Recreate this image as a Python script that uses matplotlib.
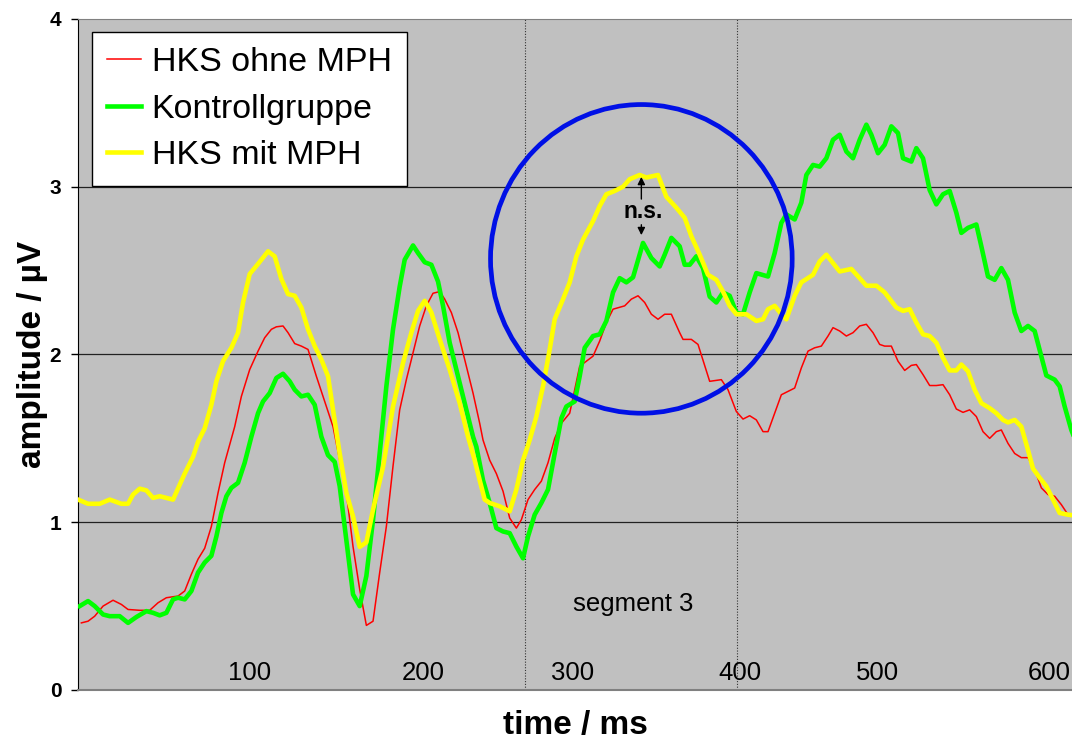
import numpy as np
import matplotlib
matplotlib.use("Agg")
import matplotlib.pyplot as plt
from matplotlib.patches import Ellipse

plt.rcParams['font.family'] = ['Liberation Sans', 'DejaVu Sans']

# ERP averages, time in ms, amplitude in µV
t_ohne = [2, 6, 10, 15, 21, 26, 30, 37, 43, 48, 53, 60, 64, 68, 72, 76, 80, 84, 88, 94,
          98, 103, 108, 112, 116, 119, 123, 126, 130, 134, 138, 143, 148, 153, 157, 161,
          165, 169, 173, 177, 181, 185, 189, 193, 197, 201, 205, 209, 213, 217, 220, 224,
          228, 233, 237, 241, 243, 247, 251, 255, 259, 263, 266, 270, 274, 278, 282, 286,
          290, 295, 301, 305, 309, 313, 317, 321, 328, 332, 336, 340, 344, 348, 352, 356,
          361, 363, 368, 372, 379, 386, 390, 395, 399, 403, 407, 411, 414, 418, 422, 430,
          434, 438, 442, 446, 450, 453, 457, 461, 465, 469, 473, 477, 481, 484, 488, 492,
          496, 500, 503, 507, 511, 515, 519, 523, 527, 531, 535, 539, 543, 547, 551, 554,
          558, 562, 566, 570, 574, 578, 582, 586, 590, 594, 598]
amp_ohne = [0.40, 0.41, 0.44, 0.50, 0.535, 0.51, 0.48, 0.475, 0.475, 0.52, 0.55, 0.56, 0.59,
            0.69, 0.78, 0.845, 0.975, 1.175, 1.355, 1.57, 1.75, 1.91, 2.02, 2.10, 2.15, 2.165,
            2.17, 2.13, 2.065, 2.05, 2.03, 1.87, 1.72, 1.57, 1.37, 1.175, 0.855, 0.60, 0.385,
            0.41, 0.70, 0.975, 1.335, 1.67, 1.85, 2.01, 2.17, 2.29, 2.365, 2.375, 2.33, 2.25,
            2.13, 1.93, 1.77, 1.59, 1.49, 1.37, 1.29, 1.185, 1.025, 0.965, 1.015, 1.135, 1.195,
            1.245, 1.355, 1.50, 1.59, 1.65, 1.93, 1.96, 1.99, 2.08, 2.19, 2.27, 2.29, 2.33,
            2.35, 2.31, 2.24, 2.21, 2.24, 2.24, 2.13, 2.09, 2.09, 2.06, 1.84, 1.85, 1.79, 1.66,
            1.615, 1.635, 1.61, 1.54, 1.54, 1.65, 1.76, 1.80, 1.92, 2.02, 2.04, 2.05, 2.11,
            2.16, 2.14, 2.11, 2.13, 2.17, 2.18, 2.13, 2.06, 2.05, 2.05, 1.96, 1.905, 1.935,
            1.94, 1.88, 1.815, 1.815, 1.82, 1.76, 1.675, 1.655, 1.67, 1.63, 1.54, 1.50, 1.54,
            1.55, 1.47, 1.41, 1.385, 1.385, 1.315, 1.205, 1.165, 1.155, 1.105, 1.045, 1.03]

t_kontroll = [1, 6, 10, 15, 19, 25, 30, 35, 41, 45, 49, 53, 57, 60, 64, 68, 72, 76, 80, 83,
              86, 89, 92, 96, 100, 104, 108, 111, 115, 119, 123, 127, 130, 134, 138, 142, 146,
              150, 154, 157, 160, 165, 169, 173, 177, 181, 185, 189, 193, 196, 201, 204, 208,
              212, 216, 219, 223, 228, 233, 237, 239, 243, 247, 251, 255, 259, 263, 267, 270,
              274, 278, 282, 286, 290, 293, 298, 301, 304, 309, 313, 317, 321, 325, 329, 333,
              339, 344, 349, 352, 356, 361, 364, 367, 371, 375, 379, 383, 387, 391, 395, 399,
              403, 407, 414, 418, 422, 425, 430, 434, 437, 441, 445, 449, 453, 457, 461, 465,
              469, 473, 476, 480, 484, 488, 492, 495, 500, 503, 507, 511, 515, 519, 523, 527,
              530, 534, 539, 542, 546, 550, 554, 558, 562, 566, 570, 574, 578, 581, 586, 589,
              592, 596, 600]
amp_kontroll = [0.50, 0.53, 0.50, 0.45, 0.44, 0.44, 0.40, 0.435, 0.47, 0.46, 0.445, 0.46, 0.54,
                0.55, 0.54, 0.59, 0.70, 0.76, 0.80, 0.915, 1.055, 1.155, 1.205, 1.235, 1.355,
                1.51, 1.65, 1.72, 1.77, 1.86, 1.885, 1.84, 1.79, 1.75, 1.76, 1.70, 1.51, 1.40,
                1.36, 1.215, 0.975, 0.57, 0.50, 0.68, 1.015, 1.41, 1.81, 2.15, 2.405, 2.565,
                2.65, 2.605, 2.55, 2.535, 2.435, 2.29, 2.07, 1.87, 1.67, 1.51, 1.45, 1.25, 1.115,
                0.965, 0.945, 0.935, 0.855, 0.785, 0.915, 1.045, 1.115, 1.195, 1.41, 1.62, 1.69,
                1.72, 1.87, 2.04, 2.11, 2.12, 2.20, 2.37, 2.455, 2.43, 2.46, 2.665, 2.575, 2.525,
                2.595, 2.695, 2.645, 2.535, 2.535, 2.585, 2.515, 2.345, 2.31, 2.37, 2.35, 2.25,
                2.24, 2.37, 2.485, 2.465, 2.605, 2.785, 2.835, 2.805, 2.905, 3.07, 3.13, 3.12,
                3.17, 3.28, 3.31, 3.21, 3.17, 3.28, 3.37, 3.31, 3.20, 3.25, 3.36, 3.32, 3.17,
                3.15, 3.23, 3.17, 2.98, 2.895, 2.955, 2.975, 2.845, 2.725, 2.755, 2.775, 2.645,
                2.465, 2.445, 2.515, 2.445, 2.25, 2.14, 2.17, 2.14, 1.99, 1.875, 1.85, 1.81,
                1.69, 1.55, 1.45]

t_mit = [0, 6, 13, 19, 26, 30, 33, 37, 41, 45, 49, 57, 64, 69, 72, 76, 80, 83, 87, 92, 96,
         99, 103, 108, 114, 118, 122, 126, 130, 134, 138, 142, 146, 150, 153, 157, 161, 165,
         169, 173, 177, 183, 189, 195, 200, 204, 208, 212, 217, 223, 229, 234, 238, 241, 244,
         247, 253, 259, 263, 267, 271, 275, 279, 283, 286, 291, 295, 299, 303, 309, 313, 317,
         322, 327, 331, 337, 341, 348, 353, 359, 364, 368, 373, 378, 383, 387, 391, 395, 401,
         407, 411, 414, 418, 422, 425, 430, 434, 441, 445, 449, 453, 457, 464, 469, 473, 479,
         484, 491, 495, 499, 503, 507, 511, 515, 519, 523, 527, 530, 534, 538, 542, 547, 551,
         555, 558, 562, 566, 570, 573, 577, 581, 585, 589, 594, 598]
amp_mit = [1.135, 1.11, 1.11, 1.135, 1.11, 1.11, 1.165, 1.20, 1.19, 1.145, 1.155, 1.135, 1.29,
           1.39, 1.48, 1.56, 1.70, 1.84, 1.96, 2.04, 2.13, 2.31, 2.48, 2.54, 2.615, 2.585, 2.45,
           2.36, 2.35, 2.28, 2.15, 2.05, 1.97, 1.87, 1.67, 1.41, 1.175, 1.035, 0.853, 0.88,
           1.075, 1.33, 1.69, 1.95, 2.13, 2.26, 2.32, 2.25, 2.09, 1.91, 1.71, 1.51, 1.37, 1.25,
           1.135, 1.115, 1.095, 1.065, 1.195, 1.37, 1.49, 1.63, 1.81, 2.03, 2.21, 2.33, 2.43,
           2.585, 2.685, 2.795, 2.885, 2.955, 2.975, 3.00, 3.045, 3.07, 3.055, 3.07, 2.94,
           2.875, 2.815, 2.705, 2.595, 2.475, 2.445, 2.375, 2.29, 2.24, 2.24, 2.20, 2.21, 2.27,
           2.29, 2.24, 2.21, 2.35, 2.43, 2.475, 2.555, 2.595, 2.545, 2.495, 2.51, 2.455, 2.41,
           2.41, 2.37, 2.28, 2.26, 2.27, 2.19, 2.12, 2.11, 2.07, 1.98, 1.905, 1.905, 1.94, 1.90,
           1.79, 1.71, 1.68, 1.65, 1.61, 1.595, 1.61, 1.57, 1.43, 1.32, 1.265, 1.215, 1.135,
           1.055, 1.045, 1.04]

# text labels written along the bottom of the plot
time_labels = ["100", "200", "300", "400", "500", "600"]
time_label_pos = [103, 207, 297, 397, 479.5, 583]
segment_bounds = [268, 395.5]

fig = plt.figure(figsize=(10.72, 7.42), dpi=100)
ax = fig.add_axes([0.0728, 0.0701, 0.9272, 0.9043])
ax.set_facecolor('#c0c0c0')

for yv in [1, 2, 3]:
    ax.axhline(yv, color='#222222', lw=0.9, zorder=1)
for xv in segment_bounds:
    ax.axvline(xv, color='#333333', lw=0.8, ls=(0, (1, 1.5)), zorder=1)

ax.plot(t_ohne, amp_ohne, color='#ff0000', lw=1.1, label='HKS ohne MPH', zorder=3,
        solid_joinstyle='round')
ax.plot(t_kontroll, amp_kontroll, color='#00ff00', lw=3.3, label='Kontrollgruppe', zorder=4,
        solid_joinstyle='round')
ax.plot(t_mit, amp_mit, color='#ffff00', lw=3.3, label='HKS mit MPH', zorder=5,
        solid_joinstyle='round')

ax.set_xlim(0, 596.4)
ax.set_ylim(0, 4)

# highlighted region around the third peak
ax.add_patch(Ellipse((338, 2.57), 181, 1.84, fill=False, ec='#0010e6', lw=3.4, zorder=6))
ax.annotate('', xy=(338, 3.075), xytext=(338, 2.91),
            arrowprops=dict(arrowstyle='-|>', color='black', lw=1.0, mutation_scale=11),
            zorder=7)
ax.annotate('', xy=(338, 2.695), xytext=(338, 2.79),
            arrowprops=dict(arrowstyle='-|>', color='black', lw=1.0, mutation_scale=11),
            zorder=7)
ax.text(339, 2.85, 'n.s.', fontsize=16.5, fontweight='bold', ha='center', va='center', zorder=7)

for lab, pos in zip(time_labels, time_label_pos):
    ax.text(pos, 0.10, lab, fontsize=18.5, ha='center', va='center', zorder=2)
ax.text(333, 0.51, 'segment 3', fontsize=18.5, ha='center', va='center', zorder=2)

ax.set_xticks([])
ax.set_yticks([0, 1, 2, 3, 4])
ax.tick_params(axis='y', length=5, width=1, pad=7, labelsize=15)
for lbl in ax.get_yticklabels():
    lbl.set_fontweight('bold')

ax.spines['right'].set_visible(False)
ax.spines['left'].set_color('black')
ax.spines['top'].set_color('#808080')
ax.spines['bottom'].set_color('#808080')
ax.spines['bottom'].set_linewidth(1.5)

ax.set_ylabel('amplitude / µV', fontsize=24, fontweight='bold')
ax.yaxis.set_label_coords(-0.030, 0.5)
ax.set_xlabel('time / ms', fontsize=24, fontweight='bold')
ax.xaxis.set_label_coords(0.5, -0.03)

leg = ax.legend(loc='upper left', bbox_to_anchor=(0.0141, 0.9806), borderaxespad=0,
                fontsize=24.5, fancybox=False, framealpha=1, edgecolor='black',
                handlelength=1.0, handletextpad=0.3, labelspacing=0.45, borderpad=0.45)
leg.get_frame().set_linewidth(1.0)
leg.set_zorder(8)

fig.savefig('out.png', dpi=100)
